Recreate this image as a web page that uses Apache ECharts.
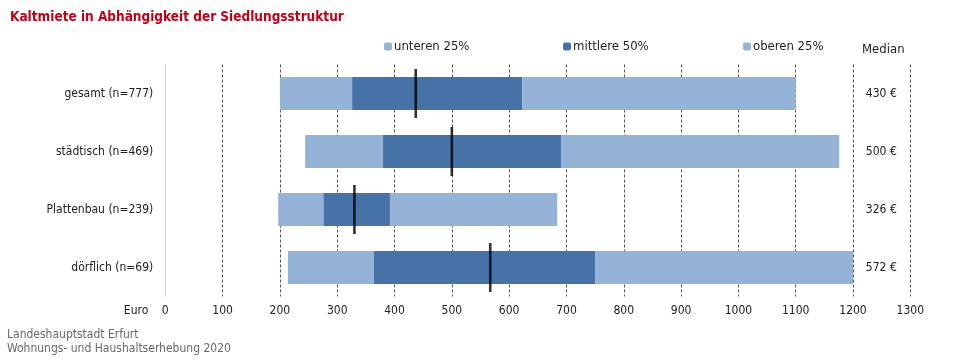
<!DOCTYPE html>
<html>
<head>
<meta charset="utf-8">
<script src="https://cdn.jsdelivr.net/npm/echarts@6/dist/echarts.min.js"></script>
<style>html,body{margin:0;padding:0;background:#fff}#c{width:960px;height:360px}</style>
</head>
<body>
<div id="c"></div>
<script>
var categories = ['gesamt (n=777)', 'städtisch (n=469)', 'Plattenbau (n=239)', 'dörflich (n=69)'];
var minVals = [200, 244, 197, 214];
var q1Vals = [326, 380, 276, 364];
var q3Vals = [623, 691, 392, 750];
var maxVals = [1100, 1176, 684, 1200];
var medianPos = [437, 500, 330, 567];
var medianLabels = ['430 €', '500 €', '326 €', '572 €'];
var xTicks = { min: 0, max: 1300, step: 100 };

var FONT = '"DejaVu Sans Condensed", "Liberation Sans Narrow", sans-serif';
var LIGHT = '#95b3d7', DARK = '#4672a8';
var TXT = '#222';

function diff(a, b) { return a.map(function (v, i) { return v - b[i]; }); }

var legendText = { fontFamily: FONT, fontSize: 13, color: TXT, padding: [0, 0, 0, -3] };

var chart = echarts.init(document.getElementById('c'), null, { renderer: 'canvas' });
chart.setOption({
  animation: false,
  textStyle: { fontFamily: FONT },
  title: [
    { text: 'Kaltmiete in Abhängigkeit der Siedlungsstruktur', left: 10, top: 10, padding: 0,
      textStyle: { fontFamily: FONT, fontSize: 13.5, fontWeight: 'bold', color: '#c00018' } },
    { text: 'Median', left: 862, top: 43, padding: 0,
      textStyle: { fontFamily: FONT, fontSize: 13, fontWeight: 'normal', color: TXT } },
    { text: 'Landeshauptstadt Erfurt\nWohnungs- und Haushaltserhebung 2020', left: 7, top: 328, padding: 0,
      textStyle: { fontFamily: FONT, fontSize: 12, fontWeight: 'normal', color: '#6a6670', lineHeight: 14 } }
  ],
  legend: [
    { data: ['unteren 25%'], left: 384, top: 40, padding: 0, itemWidth: 8, itemHeight: 8, textStyle: legendText },
    { data: ['mittlere 50%'], left: 563, top: 40, padding: 0, itemWidth: 8, itemHeight: 8, textStyle: legendText },
    { data: ['oberen 25%'], left: 743, top: 40, padding: 0, itemWidth: 8, itemHeight: 8, textStyle: legendText }
  ],
  grid: { left: 165.3, right: 49.7, top: 64.5, height: 232, containLabel: false },
  xAxis: {
    type: 'value', min: xTicks.min, max: xTicks.max, interval: xTicks.step,
    axisLine: { show: false }, axisTick: { show: false },
    axisLabel: { fontFamily: FONT, fontSize: 12, color: TXT, margin: 8,
      formatter: function (v) { return String(v); } },
    splitLine: { show: true, showMinLine: false, lineStyle: { color: '#555', width: 1, type: [3, 2] } },
    name: 'Euro', nameLocation: 'start', nameGap: 17,
    nameTextStyle: { fontFamily: FONT, fontSize: 12, color: TXT, verticalAlign: 'top', padding: [8, 0, 0, 0] }
  },
  yAxis: [
    { type: 'category', data: categories, inverse: true,
      axisLine: { show: true, lineStyle: { color: '#d4d4d4', width: 1 } },
      axisTick: { show: false },
      axisLabel: { fontFamily: FONT, fontSize: 12, color: TXT, margin: 12 } },
    { type: 'category', data: medianLabels, inverse: true, position: 'right',
      axisLine: { show: false }, axisTick: { show: false },
      axisLabel: { fontFamily: FONT, fontSize: 12, color: TXT, margin: -29, align: 'center',
        padding: [4, 0, 0, 0] } }
  ],
  series: [
    { name: 'base', type: 'bar', stack: 's', barWidth: 33, data: minVals,
      itemStyle: { color: 'transparent' }, silent: true },
    { name: 'unteren 25%', type: 'bar', stack: 's', barWidth: 33, data: diff(q1Vals, minVals),
      itemStyle: { color: LIGHT } },
    { name: 'mittlere 50%', type: 'bar', stack: 's', barWidth: 33, data: diff(q3Vals, q1Vals),
      itemStyle: { color: DARK } },
    { name: 'oberen 25%', type: 'bar', stack: 's', barWidth: 33, data: diff(maxVals, q3Vals),
      itemStyle: { color: LIGHT } },
    { name: 'Median', type: 'scatter', symbol: 'rect', symbolSize: [2.6, 49], z: 5,
      data: medianPos.map(function (v, i) { return [v, i]; }),
      itemStyle: { color: '#000' } }
  ]
});
</script>
</body>
</html>
